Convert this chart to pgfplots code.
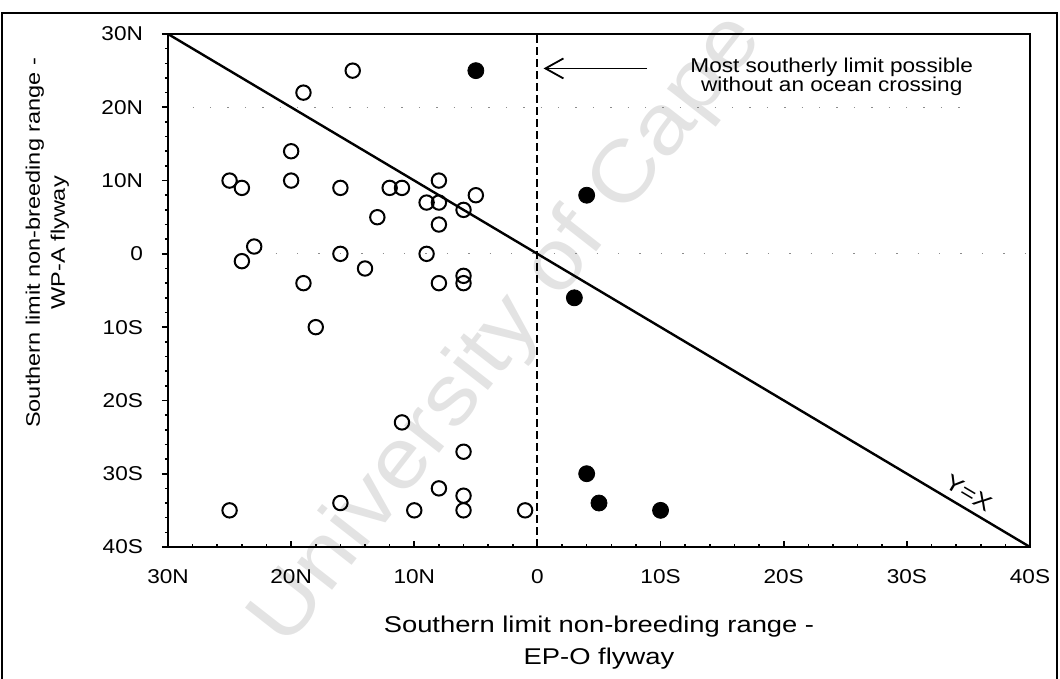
\documentclass[border=0pt]{standalone}
\usepackage{fontspec}
\setmainfont{Liberation Sans}[FakeStretch=1.13]
\newfontfamily\labelfont{Liberation Sans}[FakeStretch=1.2]
\usepackage{pgfplots}
\pgfplotsset{compat=1.18}
\usetikzlibrary{arrows.meta}

% Southern limits of the non-breeding range, in degrees (north positive for
% the WP-A flyway, south positive for the EP-O flyway)
\pgfplotstableread{
x   y
-15  25
-19  22
-20  14
-20  10
-25  10
-24   9
-16   9
-12   9
-11   9
-8   10
-9    7
-8    7
-6    6
-13   5
-8    4
-5    8
-23   1
-24  -1
-16   0
-9    0
-14  -2
-19  -4
-8   -4
-6   -3
-6   -4
-18 -10
-11 -23
-6  -27
-8  -32
-6  -33
-6  -35
-16 -34
-25 -35
-10 -35
-1  -35
}\opentable

\pgfplotstableread{
x   y
-5  25
4    8
3   -6
4  -30
5  -34
10 -35
}\filledtable

\begin{document}
\begin{tikzpicture}
\useasboundingbox (0,0) rectangle (530pt,339.5pt);
% outer frame
\draw[line width=0.9pt] (1pt,-5pt) -- (1pt,333pt) -- (528.5pt,333pt) -- (528.5pt,-5pt);
% repository watermark
\node[rotate=52, anchor=base west, font=\fontsize{42}{50}\selectfont, text=black!11]
  at (141pt,12pt) {University of Cape Town};
\begin{axis}[
  at={(84pt,66pt)}, anchor=south west,
  scale only axis, width=431pt, height=256.5pt,
  xmin=-30, xmax=40, ymin=-40, ymax=30,
  xtick={-30,-20,...,40},
  xticklabels={30N,20N,10N,0,10S,20S,30S,40S},
  ytick={-40,-30,...,30},
  yticklabels={40S,30S,20S,10S,0,10N,20N,30N},
  minor tick num=4,
  tick pos=left,
  ytick align=outside,
  major tick length=3pt, minor tick length=1.5pt,
  every tick/.style={black, line width=0.8pt},
  axis line style={line width=1pt},
  tick label style={font=\fontsize{10}{12}\selectfont},
  /pgf/number format/assume math mode=true,
  xticklabel style={yshift=-7.5pt},
  yticklabel style={xshift=-6pt},
  xlabel={Southern limit non-breeding range -\\EP-O flyway},
  xlabel style={align=center, font=\labelfont\fontsize{11.4}{16}\selectfont,
    at={(axis description cs:0.5,0)}, anchor=north, yshift=-31pt},
  ylabel={Southern limit non-breeding range -\\WP-A flyway},
  ylabel style={align=center, font=\labelfont\fontsize{9.8}{12.5}\selectfont,
    at={(axis description cs:-0.14,0.593)}, anchor=center},
]
% faint remains of the grid
\addplot[no marks, black!45, line width=0.5pt, dash pattern=on 0.7pt off 8pt]
  coordinates {(-28,20) (35,20)};
\addplot[no marks, black!45, line width=0.5pt, dash pattern=on 0.7pt off 10pt]
  coordinates {(-23,0) (40,0)};
% the line Y = X
\addplot[line width=1.2pt, no marks] coordinates {(-30,30) (40,-40)}
  node[pos=0.92, sloped, above, font=\labelfont\fontsize{11}{12}\selectfont] {Y=X};
% limit reachable without crossing an ocean
\addplot[line width=1pt, no marks, dash pattern=on 4pt off 2pt] coordinates {(0,-40) (0,30)};
\draw[line width=0.9pt, -{Straight Barb[length=9pt,width=10pt]}]
  (axis cs:8.9,25.3) -- (axis cs:0.5,25.3);
\node[align=center, font=\fontsize{10}{9.4}\selectfont] at (axis cs:23.9,24.2)
  {Most southerly limit possible\\without an ocean crossing};
% species
\addplot[only marks, mark=o, mark size=3.6pt, mark options={line width=1pt, black}]
  table {\opentable};
\addplot[only marks, mark=*, mark size=4pt, mark options={black, fill=black}]
  table {\filledtable};
\end{axis}
\end{tikzpicture}
\end{document}
